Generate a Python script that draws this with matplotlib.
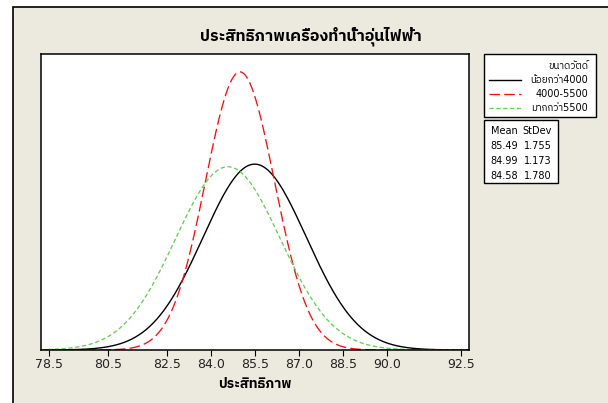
import matplotlib
matplotlib.use("Agg")
import matplotlib.pyplot as plt
import numpy as np
from matplotlib import font_manager
from matplotlib.ft2font import FT2Font
from matplotlib.lines import Line2D
from matplotlib.patches import Rectangle

# --- data ---
title = "ประสิทธิภาพเครื่องทำน้ำอุ่นไฟฟ้า"
x_label = "ประสิทธิภาพ"
legend_title = "ขนาดวัตด์"
groups = ["น้อยกว่า4000", "4000-5500", "มากกว่า5500"]
means = [85.49, 84.99, 84.58]
stdevs = [1.755, 1.173, 1.780]
x_ticks = [78.5, 80.5, 82.5, 84.0, 85.5, 87.0, 88.5, 90.0, 92.5]

colors = ["#000000", "#F01010", "#66CC55"]
styles = ["-", (0, (8, 3.2)), (0, (3.2, 2.0))]
widths = [1.0, 0.95, 0.95]


def find_thai_font():
    # pick any installed font that has Thai glyphs, sans first
    found = []
    for f in font_manager.fontManager.ttflist:
        try:
            cmap = FT2Font(f.fname).get_charmap()
        except Exception:
            continue
        if 0x0E1B in cmap and 0x0E34 in cmap:
            found.append(f.name)
    if not found:
        return None
    for name in found:
        if "Sans" in name and "Serif" not in name:
            return name
    return found[0]


thai = find_thai_font()
fams = ["DejaVu Sans"]
if thai:
    fams.append(thai)
plt.rcParams["font.family"] = fams

W, H = 608, 403
fig = plt.figure(figsize=(W / 100, H / 100), dpi=100, facecolor="white")


def fx(x):
    return x / W


def fy(y):
    return 1 - y / H


# beige panel with top/left border, behind everything
fig.add_artist(Rectangle((fx(13), -0.1), 1.2, fy(7) + 0.1, transform=fig.transFigure,
                         facecolor="#ECE9DF", edgecolor="black", linewidth=1.2,
                         zorder=-10))

ax = fig.add_axes([fx(41), fy(350), fx(469) - fx(41), fy(54) - fy(350)])
ax.set_facecolor("white")

xmin, xmax = 78.23, 92.77
xs = np.linspace(xmin, xmax, 600)
for m, s, c, ls, lw in zip(means, stdevs, colors, styles, widths):
    pdf = np.exp(-0.5 * ((xs - m) / s) ** 2) / (s * np.sqrt(2 * np.pi))
    ax.plot(xs, pdf, color=c, linestyle=ls, linewidth=lw)

ax.set_xlim(xmin, xmax)
ax.set_ylim(0, 0.362)
ax.set_xticks(x_ticks)
ax.set_xticklabels([f"{t:.1f}" for t in x_ticks], fontsize=9, color="#222222")
ax.set_yticks([])
ax.tick_params(axis="x", direction="out", length=4, width=0.8, pad=2)
for sp in ax.spines.values():
    sp.set_linewidth(1.1)
ax.set_xlabel(x_label, fontsize=10, fontweight="bold", labelpad=4)

fig.text(fx(311), fy(36), title, fontsize=11.5, fontweight="bold", ha="center", va="center")

# legend box for groups
fig.add_artist(Rectangle((fx(484), fy(117)), fx(596) - fx(484), fy(54) - fy(117),
                         transform=fig.transFigure, facecolor="white", edgecolor="black",
                         linewidth=1))
fig.text(fx(588), fy(66), legend_title, fontsize=7, ha="right", va="center")
for i, (g, c, ls, lw) in enumerate(zip(groups, colors, styles, widths)):
    yy = fy(80 + 14 * i)
    fig.add_artist(Line2D([fx(489), fx(521)], [yy, yy], transform=fig.transFigure,
                          color=c, linestyle=ls, linewidth=lw))
    fig.text(fx(588), yy, g, fontsize=7, ha="right", va="center")

# stats box
fig.add_artist(Rectangle((fx(484), fy(183)), fx(558) - fx(484), fy(120) - fy(183),
                         transform=fig.transFigure, facecolor="white", edgecolor="black",
                         linewidth=1))
fig.text(fx(518), fy(131), "Mean", fontsize=7, ha="right", va="center")
fig.text(fx(552), fy(131), "StDev", fontsize=7, ha="right", va="center")
for i, (m, s) in enumerate(zip(means, stdevs)):
    yy = fy(146 + 15 * i)
    fig.text(fx(518), yy, f"{m:.2f}", fontsize=7, ha="right", va="center")
    fig.text(fx(552), yy, f"{s:.3f}", fontsize=7, ha="right", va="center")

fig.savefig("out.png", dpi=100, facecolor="white")
